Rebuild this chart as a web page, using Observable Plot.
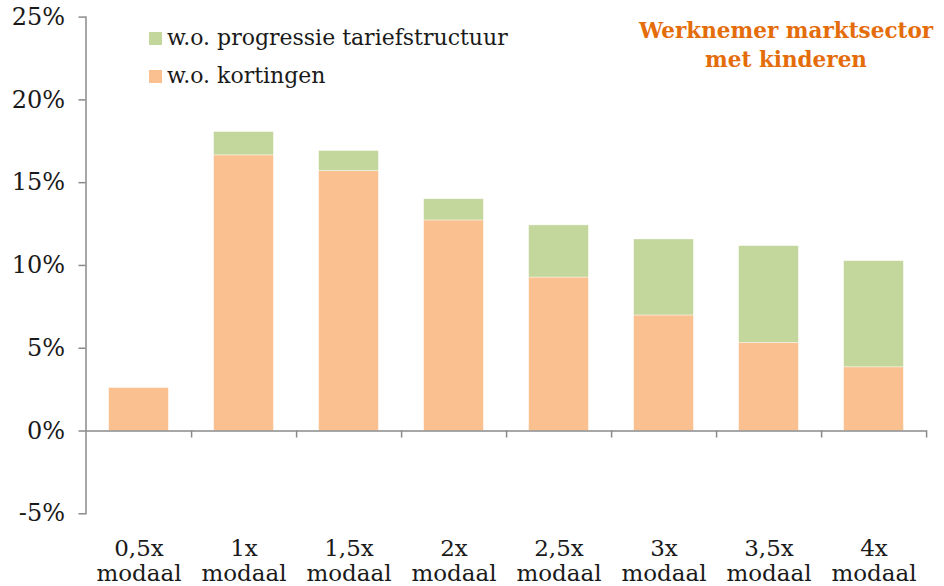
<!DOCTYPE html>
<html><head><meta charset="utf-8">
<script src="https://cdn.jsdelivr.net/npm/d3@7"></script>
<script src="https://cdn.jsdelivr.net/npm/@observablehq/plot@0.6"></script>
<style>
body{margin:0;background:#fff;}
#wrap{position:relative;width:944px;height:586px;font-family:"DejaVu Serif",serif;color:#1a1a1a;overflow:hidden;}
#wrap svg{position:absolute;left:0;top:0;}
.title{position:absolute;left:626px;width:320px;text-align:center;top:16px;font-size:21.5px;line-height:29px;font-weight:bold;color:#E46C0A;white-space:nowrap;}
.leg{position:absolute;left:149px;font-size:22px;line-height:30px;white-space:nowrap;}
.leg i{display:inline-block;width:13px;height:13px;margin-right:5px;}
</style></head><body><div id="wrap"></div>
<script>
const categories = ["0,5x","1x","1,5x","2x","2,5x","3x","3,5x","4x"];
const categorySuffix = "modaal";
const kortingen  = [2.60, 16.65, 15.70, 12.72, 9.27, 6.98, 5.32, 3.85];
const progressie = [0.00, 1.41, 1.21, 1.28, 3.15, 4.59, 5.85, 6.41];
const seriesNames = ["w.o. kortingen", "w.o. progressie tariefstructuur"];
const seriesColors = ["#FAC090", "#C3D69B"];
const yTicks = [-5, 0, 5, 10, 15, 20, 25];
const titleLines = ["Werknemer marktsector", "met kinderen"];

const rows = [];
categories.forEach((c, i) => {
  rows.push({cat: c, series: seriesNames[0], value: kortingen[i]});
  rows.push({cat: c, series: seriesNames[1], value: progressie[i]});
});

const W = 944, H = 586, ml = 85.5, mr = 17, mt = 16.6, mb = 72.7;
const step = (W - ml - mr) / categories.length;
const grey = "#8a8a8a";
const font = '"DejaVu Serif", serif';

const chart = Plot.plot({
  width: W, height: H,
  marginLeft: ml, marginRight: mr, marginTop: mt, marginBottom: mb,
  style: {fontFamily: font, fontSize: "23px", color: "#1a1a1a", background: "transparent", overflow: "visible"},
  x: {domain: categories, padding: 0, label: null},
  y: {domain: [-5, 25], label: null},
  color: {domain: seriesNames, range: seriesColors},
  marks: [
    Plot.barY(rows, {x: "cat", y: "value", fill: "series", insetLeft: 22.6, insetRight: 22.6, stroke: "#fff", strokeOpacity: 0.5, strokeWidth: 0.8}),
    Plot.frame({anchor: "left", stroke: grey, strokeWidth: 1.5}),
    Plot.ruleY([0], {stroke: grey, strokeWidth: 1.5}),
    Plot.ruleX(categories, {x: d => d, y1: 0, y2: 0, dx: step / 2, insetBottom: -7, stroke: grey, strokeWidth: 1.5}),
    Plot.axisY({ticks: yTicks, tickFormat: d => d + "%", tickSize: 7, tickPadding: 14, stroke: grey, strokeWidth: 1.5, fill: "#1a1a1a", fontSize: 24, fontFamily: font, label: null}),
    Plot.axisX({tickSize: 0, tickPadding: 24, tickFormat: d => d + "\n" + categorySuffix, lineHeight: 1.1, fill: "#1a1a1a", fontSize: 23, fontFamily: font, label: null})
  ]
});

const wrap = document.getElementById("wrap");
wrap.appendChild(chart);

const t = document.createElement("div");
t.className = "title";
t.innerHTML = titleLines.join("<br>");
wrap.appendChild(t);

[1, 0].forEach((k, j) => {
  const d = document.createElement("div");
  d.className = "leg";
  d.style.top = (j === 0 ? 23 : 61) + "px";
  const sw = document.createElement("i");
  sw.style.background = seriesColors[k];
  d.appendChild(sw);
  d.appendChild(document.createTextNode(seriesNames[k]));
  wrap.appendChild(d);
});
</script>
</body></html>
